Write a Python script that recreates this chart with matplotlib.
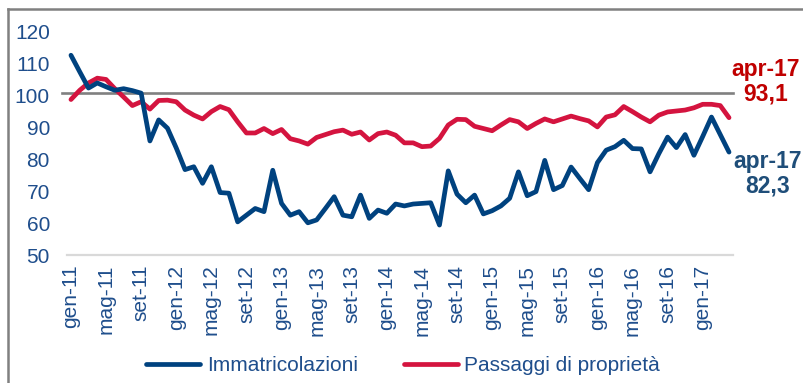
import matplotlib.pyplot as plt
import numpy as np
from matplotlib.lines import Line2D

plt.rcParams["font.family"] = ["Liberation Sans", "DejaVu Sans"]

# Indici mensili gen-11 .. apr-17
immatricolazioni = [
    112.7, 107.5, 102.4, 104.0, 102.8, 101.7, 102.2, 101.6, 100.8, 85.8,
    92.4, 89.8, 83.6, 76.8, 77.7, 72.5, 77.7, 69.6, 69.4, 60.4,
    62.5, 64.6, 63.6, 76.6, 66.2, 62.5, 63.6, 60.1, 61.0, 64.6,
    68.3, 62.5, 62.0, 68.8, 61.5, 64.1, 63.1, 66.0, 65.4, 66.0,
    66.2, 66.4, 59.4, 76.4, 69.1, 66.4, 68.8, 62.9, 63.9, 65.4,
    67.8, 76.1, 68.6, 69.9, 79.7, 70.5, 71.8, 77.6, 74.0, 70.5,
    79.0, 82.9, 84.0, 86.0, 83.4, 83.3, 76.1, 81.8, 87.0, 83.7,
    87.8, 81.3, 87.2, 93.3, 87.8, 82.3,
]
passaggi = [
    98.8, 101.7, 104.0, 105.5, 105.1, 102.2, 99.6, 96.9, 98.1, 95.8,
    98.5, 98.6, 98.1, 95.5, 93.9, 92.7, 95.0, 96.6, 95.6, 91.8,
    88.3, 88.3, 89.7, 88.1, 89.4, 86.5, 85.8, 84.8, 86.9, 87.8,
    88.7, 89.2, 87.9, 88.6, 86.1, 88.1, 88.6, 87.6, 85.2, 85.2,
    84.0, 84.2, 86.6, 90.8, 92.6, 92.5, 90.4, 89.7, 89.0, 90.8,
    92.5, 91.8, 89.7, 91.3, 92.7, 91.8, 92.7, 93.6, 92.8, 92.1,
    90.2, 93.3, 94.0, 96.6, 95.0, 93.3, 91.8, 93.9, 94.9, 95.2,
    95.5, 96.2, 97.3, 97.3, 96.9, 93.1,
]
tick_labels = [
    "gen-11", "mag-11", "set-11", "gen-12", "mag-12", "set-12", "gen-13",
    "mag-13", "set-13", "gen-14", "mag-14", "set-14", "gen-15", "mag-15",
    "set-15", "gen-16", "mag-16", "set-16", "gen-17",
]
last_label = "apr-17"
reference_level = 101

BLUE = "#00427F"
RED = "#D4143F"
TEXT_BLUE = "#1F4E8C"

months = np.arange(len(immatricolazioni))

fig = plt.figure(figsize=(8.04, 3.83), dpi=100)
ax = fig.add_axes([0.0828, 0.3342, 0.8294, 0.5823])

ax.plot([-1.0, months[-1] + 0.5], [reference_level] * 2, color="#808080",
        lw=1.9, clip_on=False, zorder=1)
ax.plot(months, immatricolazioni, color=BLUE, lw=3.4,
        solid_capstyle="round", solid_joinstyle="round", zorder=3,
        label="Immatricolazioni")
ax.plot(months, passaggi, color=RED, lw=3.4,
        solid_capstyle="round", solid_joinstyle="round", zorder=2,
        label="Passaggi di proprietà")

ax.set_xlim(-0.5, months[-1] + 0.5)
ax.set_ylim(50, 120)
ax.set_yticks(np.arange(50, 121, 10))
ax.set_xticks(months[::4])
ax.set_xticklabels(tick_labels, rotation=90)
ax.tick_params(axis="both", length=0, labelcolor=TEXT_BLUE)
ax.tick_params(axis="y", labelsize=15, pad=12)
ax.tick_params(axis="x", labelsize=15, pad=7)

for side in ["top", "right", "left"]:
    ax.spines[side].set_visible(False)
ax.spines["bottom"].set_color("#D9D9D9")
ax.spines["bottom"].set_linewidth(1.6)

# etichette di fine serie
fmt = lambda v: f"{v:.1f}".replace(".", ",")
ax.annotate(f"{last_label}\n{fmt(passaggi[-1])}", xy=(months[-1], passaggi[-1]),
            xytext=(37, 36), textcoords="offset pixels", ha="center",
            va="center", color="#C00000", fontsize=16.5, fontweight="bold",
            linespacing=1.1, annotation_clip=False)
ax.annotate(f"{last_label}\n{fmt(immatricolazioni[-1])}",
            xy=(months[-1], immatricolazioni[-1]), xytext=(39, -22),
            textcoords="offset pixels", ha="center", va="center",
            color="#1F4E79", fontsize=16.5, fontweight="bold",
            linespacing=1.1, annotation_clip=False)

leg = fig.legend(loc="center", bbox_to_anchor=(403 / 804, 0.045), ncol=2,
                 frameon=False, fontsize=15, handlelength=2.6,
                 handletextpad=0.3, columnspacing=2.2)
for t in leg.get_texts():
    t.set_color(TEXT_BLUE)

# cornice esterna
fig.add_artist(Line2D([8 / 804, 8 / 804], [0, 1 - 9 / 383],
                      transform=fig.transFigure, color="#808080", lw=1.8))
fig.add_artist(Line2D([8 / 804, 1], [1 - 9 / 383, 1 - 9 / 383],
                      transform=fig.transFigure, color="#808080", lw=1.8))

fig.savefig("out.png", dpi=100)
